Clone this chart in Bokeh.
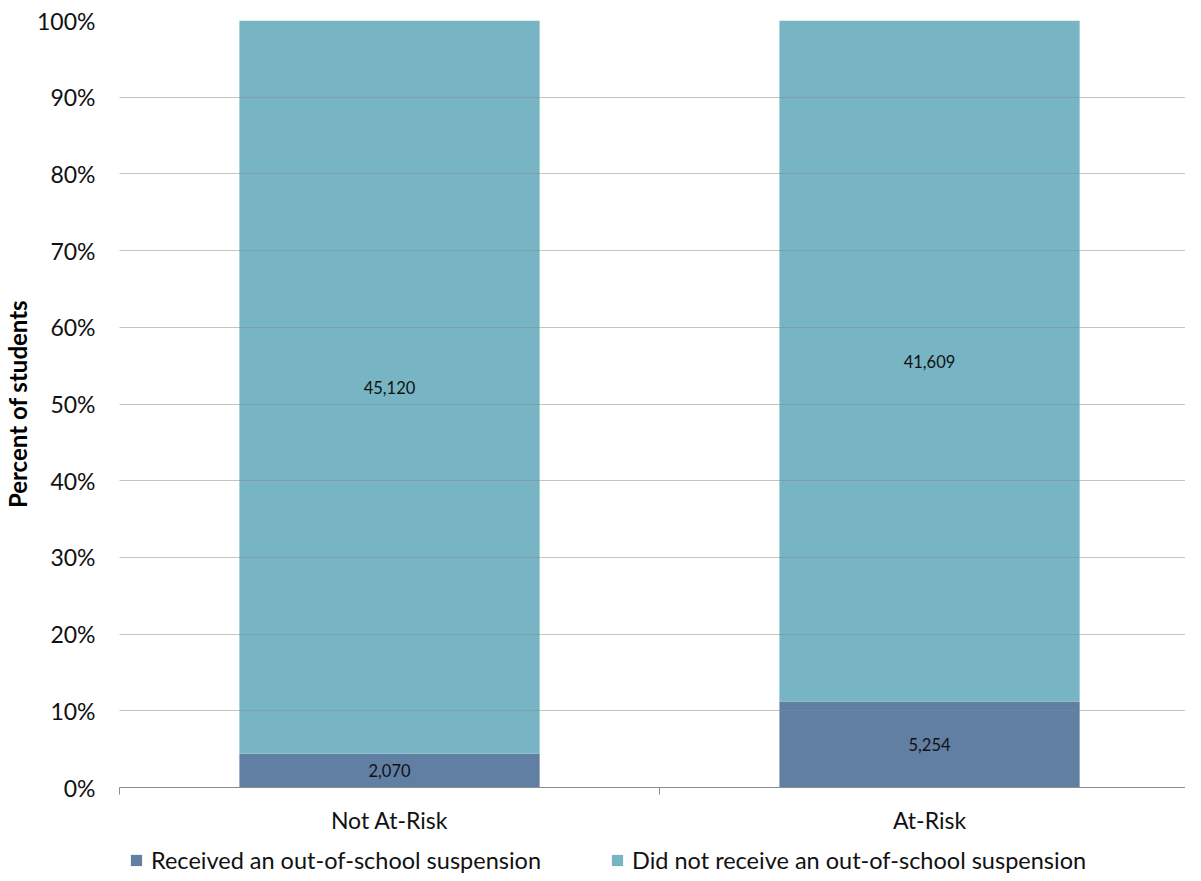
from bokeh.plotting import figure
from bokeh.models import (ColumnDataSource, FixedTicker, NumeralTickFormatter, Legend,
                          LegendItem, Range1d, LinearAxis)
from bokeh.layouts import column
from bokeh.core.properties import value
from bokeh.embed import file_html
from bokeh.resources import INLINE

categories = ["Not At-Risk", "At-Risk"]
received = [2070, 5254]
not_received = [45120, 41609]
series_names = ["Received an out-of-school suspension", "Did not receive an out-of-school suspension"]
colors = ["#617fa3", "#77b5c4"]

FONT = "Lato"

tot = [a + b for a, b in zip(received, not_received)]
x = [i + 0.5 for i in range(len(categories))]
p_rec = [a / t for a, t in zip(received, tot)]
p_not = [b / t for b, t in zip(not_received, tot)]
src = ColumnDataSource(dict(
    x=x, rec=p_rec, nrec=p_not,
    rec_mid=[v / 2 for v in p_rec],
    nrec_mid=[a + b / 2 for a, b in zip(p_rec, p_not)],
    rec_lbl=[f"{v:,}" for v in received],
    nrec_lbl=[f"{v:,}" for v in not_received],
))

W = 1185
p = figure(width=W, height=836, output_backend="svg", toolbar_location=None,
           x_range=Range1d(0, 1.974), y_range=Range1d(0, 1),
           min_border_left=112, min_border_top=20, min_border_right=0, min_border_bottom=48,
           x_axis_location=None, y_axis_location=None)
p.outline_line_color = None
p.xgrid.grid_line_color = None

r = p.vbar_stack(["rec", "nrec"], x="x", width=0.556, color=colors, source=src, line_color=None)

p.text(x="x", y="rec_mid", text="rec_lbl", source=src, text_align="center", text_baseline="middle",
       text_font=value(FONT), text_font_size="16.5px", text_color="#111111")
p.text(x="x", y="nrec_mid", text="nrec_lbl", source=src, text_align="center", text_baseline="middle",
       text_font=value(FONT), text_font_size="16.5px", text_color="#111111")

yaxis = LinearAxis(ticker=FixedTicker(ticks=[i / 10 for i in range(11)]),
                   formatter=NumeralTickFormatter(format="0%"))
yaxis.axis_line_color = None
yaxis.major_tick_line_color = None
yaxis.major_tick_out = 0
yaxis.major_tick_in = 0
yaxis.minor_tick_line_color = None
yaxis.minor_tick_out = 0
yaxis.minor_tick_in = 0
yaxis.major_label_standoff = 24
yaxis.major_label_text_font = FONT
yaxis.major_label_text_font_size = "23px"
yaxis.major_label_text_color = "#111111"
yaxis.axis_label = "Percent of students"
yaxis.axis_label_text_font = FONT
yaxis.axis_label_text_font_style = "bold"
yaxis.axis_label_text_font_size = "24px"
yaxis.axis_label_text_color = "#000000"
yaxis.axis_label_standoff = 2
p.add_layout(yaxis, "left")

xaxis = LinearAxis(ticker=FixedTicker(ticks=x, minor_ticks=[0, 1, 2]))
xaxis.major_label_overrides = {xv: c for xv, c in zip(x, categories)}
xaxis.axis_line_color = "#8c8c8c"
xaxis.major_tick_line_color = None
xaxis.major_tick_out = 0
xaxis.major_tick_in = 0
xaxis.minor_tick_line_color = "#8c8c8c"
xaxis.minor_tick_out = 7
xaxis.minor_tick_in = 0
xaxis.major_label_standoff = 11
xaxis.major_label_text_font = FONT
xaxis.major_label_text_font_size = "23px"
xaxis.major_label_text_color = "#111111"
p.add_layout(xaxis, "below")

p.ygrid.ticker = FixedTicker(ticks=[i / 10 for i in range(11)])
p.ygrid.grid_line_color = "#8a8a8a"
p.ygrid.grid_line_alpha = 0.5
p.ygrid.level = "overlay"

# legend strip (its frame is aligned with the main plot frame by the column layout)
lg = figure(width=W, height=40, output_backend="svg", toolbar_location=None,
            x_range=Range1d(0, 1), y_range=Range1d(0, 1),
            min_border=0, x_axis_location=None, y_axis_location=None)
lg.outline_line_color = None
lg.grid.grid_line_color = None
dummies = [lg.quad(left=[-10], right=[-9], bottom=[-10], top=[-9], color=c, line_color=None)
           for c in colors]
legend = Legend(items=[LegendItem(label=n, renderers=[rr]) for n, rr in zip(series_names, dummies)],
                orientation="horizontal", location=(10, 2))
legend.label_text_font = FONT
legend.label_text_font_size = "23.5px"
legend.label_text_color = "#111111"
legend.glyph_width = 14
legend.glyph_height = 14
legend.spacing = 69
legend.label_standoff = 8
legend.label_height = 20
legend.border_line_color = None
legend.background_fill_alpha = 0
legend.margin = 0
legend.padding = 0
lg.add_layout(legend, "center")

layout = column(p, lg, spacing=0)
open("out.html", "w").write(file_html(layout, INLINE))
